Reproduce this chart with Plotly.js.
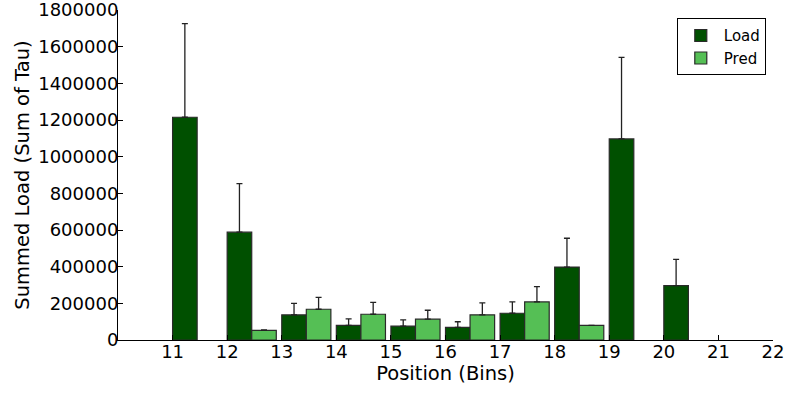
<!DOCTYPE html>
<html>
<head>
<meta charset="utf-8">
<script src="https://cdn.plot.ly/plotly-3.0.1.min.js"></script>
<style>html,body{margin:0;padding:0;background:#fff;}#chart{width:789px;height:395px;}</style>
</head>
<body>
<div id="chart"></div>
<script>
// Data
const positions = [11, 12, 13, 14, 15, 16, 17, 18, 19, 20];
const loadValues = [1215000, 588000, 137000, 79500, 75700, 68600, 146000, 398000, 1097000, 297000];
const loadErrors = [511000, 265000, 63000, 36000, 34600, 31000, 61600, 157000, 445000, 143000];
const predValues = [null, 52400, 167600, 140500, 113500, 137300, 207600, 79500, null, null];
const predErrors = [null, 3000, 65000, 65000, 48700, 65000, 84000, 0, null, null];
const xTicks = [11, 12, 13, 14, 15, 16, 17, 18, 19, 20, 21, 22];
const yTicks = [0, 200000, 400000, 600000, 800000, 1000000, 1200000, 1400000, 1600000, 1800000];

const font = "DejaVu Sans, sans-serif";

const traces = [
  {
    type: "bar", name: "Load", x: positions, y: loadValues,
    offset: 0, width: 0.45,
    marker: {color: "#005000", line: {color: "#2a2a2a", width: 1.2}},
    error_y: {type: "data", array: loadErrors, arrayminus: loadErrors.map(() => 0), symmetric: false,
              color: "#222", thickness: 1.3, width: 3}
  },
  {
    type: "bar", name: "Pred", x: positions, y: predValues,
    offset: 0.45, width: 0.45,
    marker: {color: "#55bf55", line: {color: "#2a2a2a", width: 1.2}},
    error_y: {type: "data", array: predErrors, arrayminus: predErrors.map(() => 0), symmetric: false,
              color: "#222", thickness: 1.3, width: 3}
  }
];

const layout = {
  width: 789, height: 395,
  margin: {l: 118, r: 16, t: 10, b: 55},
  paper_bgcolor: "#fff", plot_bgcolor: "#fff",
  font: {family: font, size: 18, color: "#000"},
  showlegend: true,
  legend: {x: 0.989, y: 0.975, xanchor: "right", yanchor: "top",
           bordercolor: "#000", borderwidth: 1, bgcolor: "#fff",
           tracegroupgap: 0, itemwidth: 36,
           font: {family: font, size: 15, color: "#000"}},
  xaxis: {
    range: [10, 22], tickvals: xTicks, ticktext: xTicks.map(String),
    ticks: "inside", ticklen: 5, tickcolor: "#000",
    showline: true, linecolor: "#000", linewidth: 1, mirror: false,
    showgrid: false, zeroline: false, ticklabelstandoff: -5,
    tickfont: {family: font, size: 18},
    title: {text: "Position (Bins)", font: {family: font, size: 19.5}, standoff: 0}
  },
  yaxis: {
    range: [0, 1800000], tickvals: yTicks, tickformat: "d",
    ticks: "inside", ticklen: 5, tickcolor: "#000",
    showline: true, linecolor: "#000", linewidth: 1, mirror: false,
    showgrid: false, zeroline: false, ticklabeloverflow: "allow", ticklabelstandoff: -5,
    tickfont: {family: font, size: 18},
    title: {text: "Summed Load (Sum of Tau)", font: {family: font, size: 19.5}, standoff: 3}
  }
};

Plotly.newPlot("chart", traces, layout, {staticPlot: true, displayModeBar: false});
</script>
</body>
</html>
